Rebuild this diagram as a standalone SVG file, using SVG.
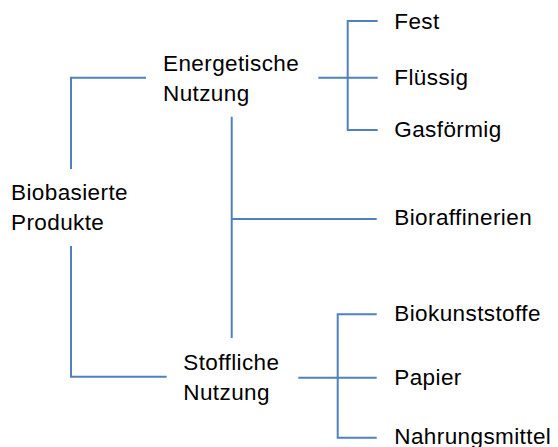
<svg xmlns="http://www.w3.org/2000/svg" width="558" height="447" viewBox="0 0 558 447">
<style>
text{font-family:"Liberation Sans",Arial,sans-serif;font-size:22.5px;letter-spacing:0.4px;fill:#000}
.c{fill:none;stroke:#4F81BD;stroke-width:2}
</style>
<rect width="558" height="447" fill="#fff"/>
<g id="connectors">
<path class="c" d="M71 169V77.7H146"/>
<path class="c" d="M71 246V376.7H166.7"/>
<path class="c" d="M231.7 116.7V338"/>
<path class="c" d="M231.7 219H376.7"/>
<path class="c" d="M318.3 77.7H377.7"/>
<path class="c" d="M377.7 21H347.7V130H377.7"/>
<path class="c" d="M298.3 377.7H376.7"/>
<path class="c" d="M376.7 314.3H337.7V437.7H376.7"/>
</g>
<g id="n-biobasierte"><text x="11" y="200">Biobasierte</text><text x="11" y="230">Produkte</text></g>
<g id="n-energetische"><text x="163" y="70.7">Energetische</text><text x="163" y="100.7">Nutzung</text></g>
<g id="n-stoffliche"><text x="183.3" y="370">Stoffliche</text><text x="183.3" y="400">Nutzung</text></g>
<g id="n-fest"><text x="394.3" y="29.3">Fest</text></g>
<g id="n-fluessig"><text x="394.3" y="85">Flüssig</text></g>
<g id="n-gasfoermig"><text x="394.3" y="137.3">Gasförmig</text></g>
<g id="n-bioraffinerien"><text x="394.3" y="225">Bioraffinerien</text></g>
<g id="n-biokunststoffe"><text x="394.3" y="320.7">Biokunststoffe</text></g>
<g id="n-papier"><text x="394.3" y="385">Papier</text></g>
<g id="n-nahrungsmittel"><text x="394.3" y="443.5">Nahrungsmittel</text></g>
</svg>
